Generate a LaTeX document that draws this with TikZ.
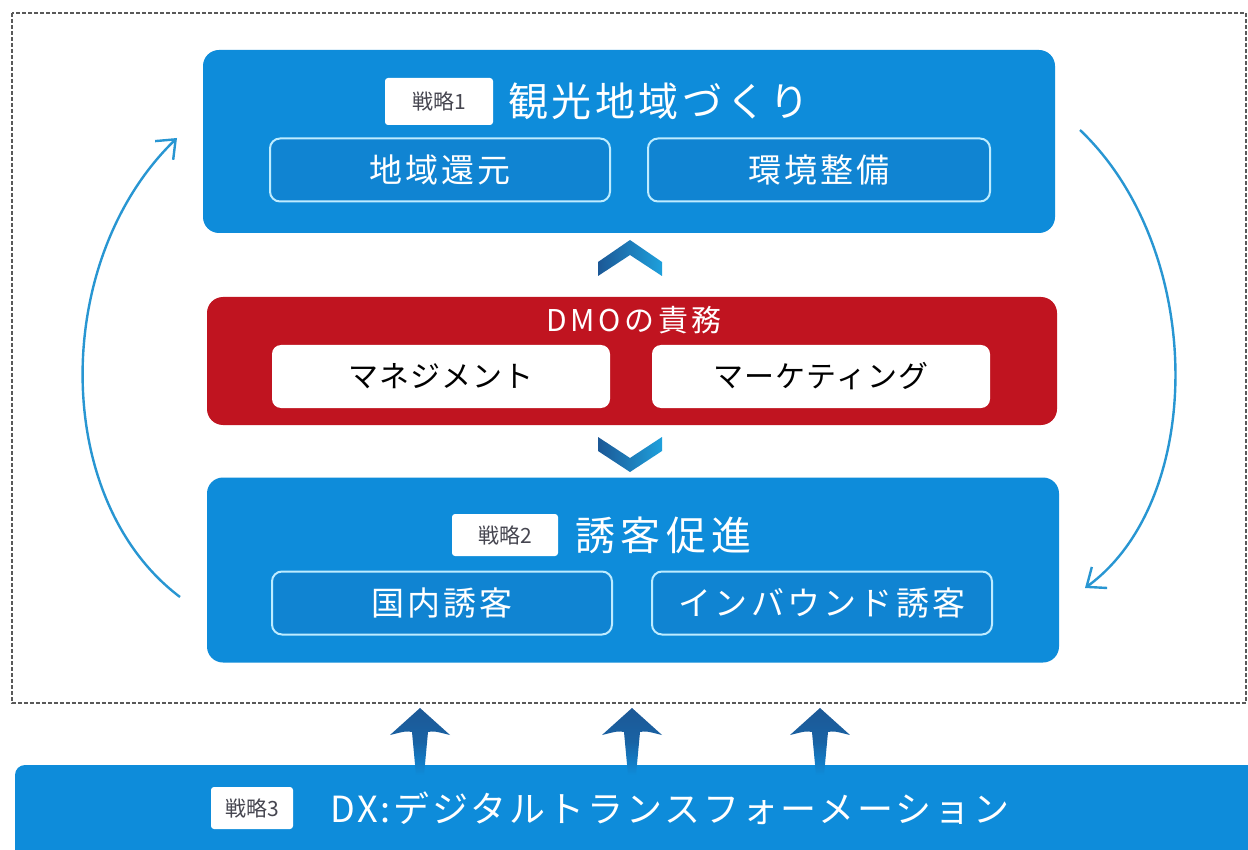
\documentclass[tikz,border=0pt]{standalone}
\usepackage{fontspec}
\setmainfont{Noto Sans CJK JP}
\usetikzlibrary{arrows.meta}
\definecolor{dmoblue}{RGB}{14,140,218}
\definecolor{subblue}{RGB}{16,132,210}
\definecolor{glow}{RGB}{190,236,255}
\definecolor{dmored}{RGB}{192,20,32}
\definecolor{arcblue}{RGB}{40,150,210}
\definecolor{chevdark}{RGB}{28,88,150}
\definecolor{chevlight}{RGB}{30,160,220}
\definecolor{badgetext}{RGB}{70,70,80}
\newcommand\fTitle{\fontsize{40}{44}\selectfont\addfontfeature{LetterSpace=9}}
\newcommand\fSub{\fontsize{33}{38}\selectfont\addfontfeature{LetterSpace=10}}
\newcommand\fDuty{\fontsize{30}{34}\selectfont\addfontfeature{LetterSpace=4}}
\newcommand\fBadge{\fontsize{21}{24}\selectfont}
\tikzset{
  mainbox/.style={fill=dmoblue, rounded corners=16pt, inner sep=0pt},
  subbox/.style={draw=glow, line width=2pt, fill=subblue, rounded corners=10pt,
    minimum width=340pt, minimum height=63pt, inner sep=0pt, text=white, font=\fSub},
  dutybox/.style={fill=white, rounded corners=9pt, minimum width=338pt,
    minimum height=63pt, inner sep=0pt, text=black, font=\fDuty},
  badge/.style={fill=white, rounded corners=3pt, inner sep=0pt, text=badgetext, font=\fBadge},
  headline/.style={text=white, inner sep=0pt, anchor=west, font=\fTitle},
  cycle/.style={draw=arcblue, line width=2.4pt, -{Straight Barb[length=16pt,width=26pt,line width=2.4pt]}},
  chevron/.style={left color=chevdark, right color=chevlight, draw=none},
  liftarrow/.style={top color=chevdark, bottom color=dmoblue, middle color=chevdark!80!dmoblue, draw=none}
}
\begin{document}
\begin{tikzpicture}[x=1pt,y=-1pt]
\clip (0,0) rectangle (1248,850);
\fill[white] (0,0) rectangle (1248,850);

% dashed frame around the three strategy blocks
\draw[gray!70!black, line width=1.3pt, dash pattern=on 4pt off 2pt] (12,13) rectangle (1246,703);

% strategy 1
\node[mainbox, minimum width=852pt, minimum height=183pt] (s1) at (629,141.5) {};
\node[badge, minimum width=108pt, minimum height=47pt] (b1) at (439,101.5) {戦略1};
\node[headline] (t1) at (508,101.5) {観光地域づくり};
\node[subbox] (s1a) at (440,170) {地域還元};
\node[subbox, minimum width=342pt] (s1b) at (819,170) {環境整備};

% DMO duties
\node[fill=dmored, rounded corners=16pt, minimum width=850pt, minimum height=128pt, inner sep=0pt] (dmo) at (632,361) {};
\node[text=white, inner sep=0pt, font=\fDuty\addfontfeature{LetterSpace=12}] (dmot) at (634,320) {DMOの責務};
\node[dutybox] (d1) at (441,376.5) {マネジメント};
\node[dutybox] (d2) at (821,376.5) {マーケティング};

% strategy 2
\node[mainbox, minimum width=852pt, minimum height=185pt] (s2) at (633,570) {};
\node[badge, minimum width=106pt, minimum height=42pt] (b2) at (505,535) {戦略2};
\node[headline, font=\fTitle\addfontfeature{LetterSpace=14}] (t2) at (575,535) {誘客促進};
\node[subbox] (s2a) at (442,603) {国内誘客};
\node[subbox] (s2b) at (822,603) {インバウンド誘客};

% strategy 3 bar
\fill[dmoblue, rounded corners=10pt] (15,765) rectangle (1290,880);
\node[badge, minimum width=82pt, minimum height=42pt] (b3) at (252,808) {戦略3};
\node[headline, font=\fontsize{36}{40}\selectfont\addfontfeature{LetterSpace=8}] (t3) at (330,808) {DX:デジタルトランスフォーメーション};

% chevrons between the blocks
\path[chevron] (598,262) -- (630,240) -- (662,262) -- (662,276) -- (630,255) -- (598,276) -- cycle;
\path[chevron] (598,437) -- (630,458) -- (662,437) -- (662,451) -- (630,472) -- (598,451) -- cycle;

% upward arrows from the DX bar
\foreach \ax in {420,632,820}{
  \path[liftarrow] (\ax,708) -- (\ax+30,735) .. controls (\ax+14,731) .. (\ax+8,732)
     -- (\ax+4,775) -- (\ax-4,775) -- (\ax-8,732) .. controls (\ax-14,731) .. (\ax-30,735) -- cycle;
}

% cycle arrows
\coordinate (l0) at (180,597);
\coordinate (l1) at (177,138);
\coordinate (r0) at (1080,130);
\coordinate (r1) at (1085,588);
\draw[cycle] (l0) .. controls (51,500) and (51,260) .. (l1);
\draw[cycle] (r0) .. controls (1206,250) and (1206,500) .. (r1);
\end{tikzpicture}
\end{document}
